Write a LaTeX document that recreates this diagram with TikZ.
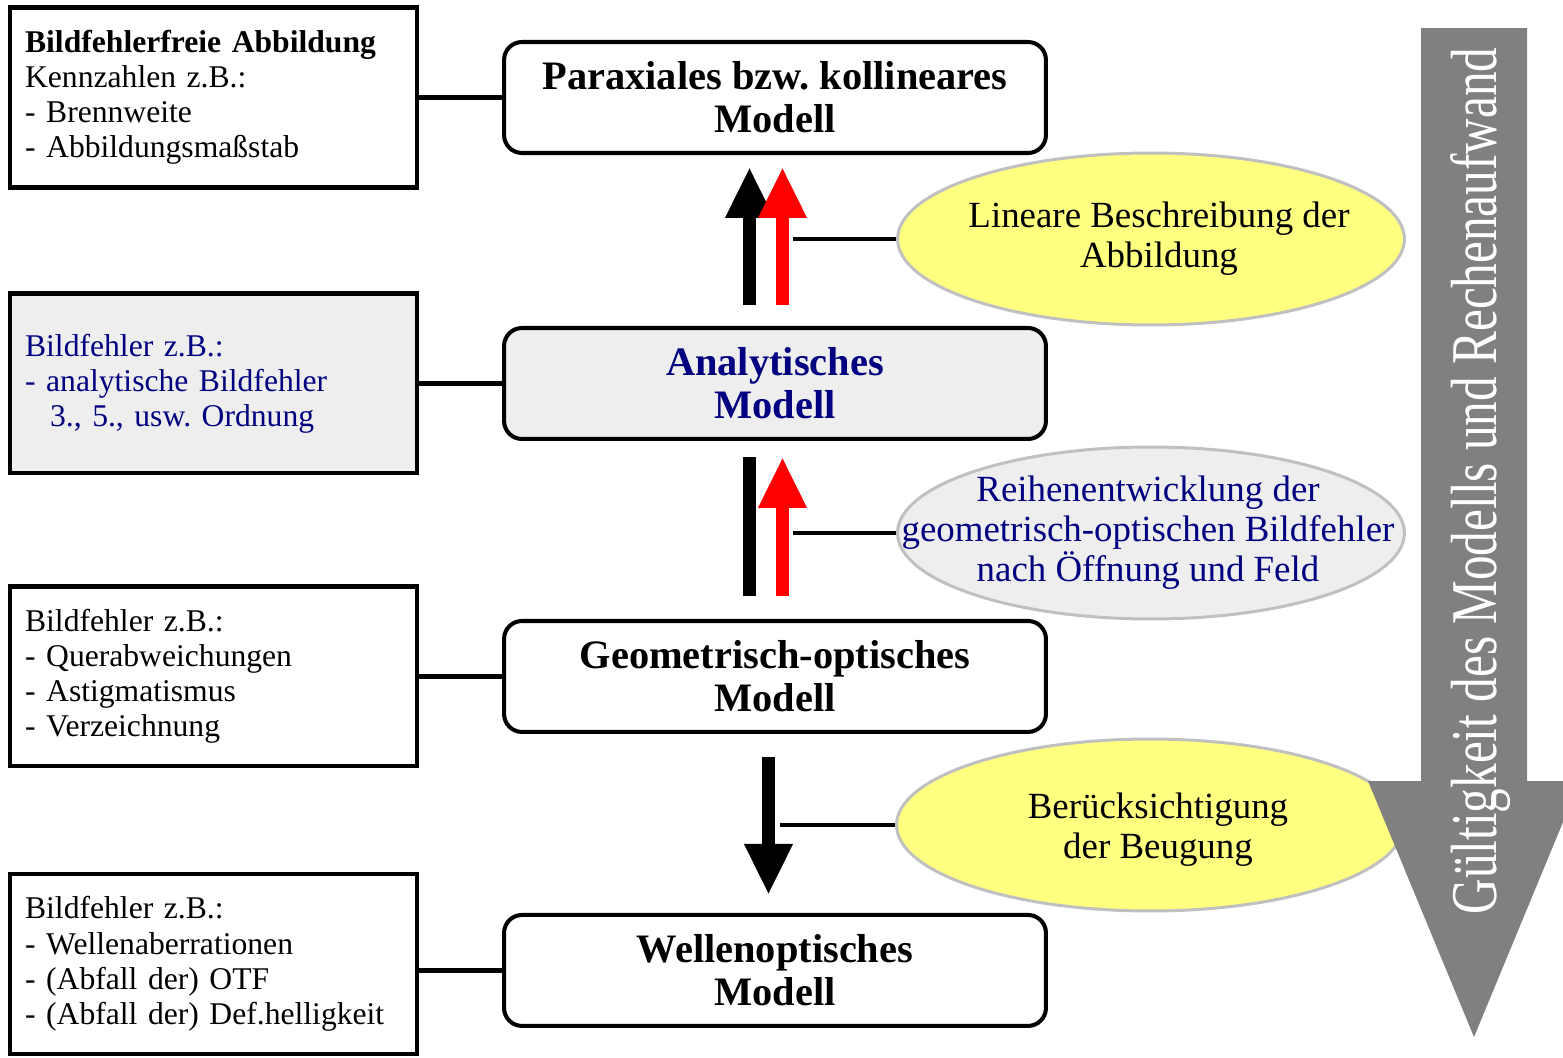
\documentclass[tikz,border=0pt]{standalone}
\usepackage{graphicx}
\usepackage{fontspec}
\setmainfont{Liberation Serif}
\usepackage{tikz}
\usetikzlibrary{arrows.meta,positioning,shapes.geometric}
\definecolor{navy}{HTML}{000080}
\definecolor{boxgray}{HTML}{EEEEEE}
\definecolor{ovalyellow}{HTML}{FFFF80}
\definecolor{ovalrim}{HTML}{C0C0C0}
\definecolor{bandgray}{HTML}{808080}
\frenchspacing

\begin{document}
\begin{tikzpicture}[
    x=0.02cm, y=-0.02cm,
    node distance=3.56cm and 1.66cm,
    model/.style={draw, line width=2.3pt, rounded corners=0.36cm, minimum width=10.84cm, minimum height=2.22cm, align=center, font=\fontsize{23pt}{24.5pt}\selectfont\bfseries},
    info/.style={draw, line width=2.3pt, minimum width=8.14cm, minimum height=3.6cm, inner xsep=0.3cm, text width=7.54cm, align=left, font=\fontsize{18pt}{20pt}\selectfont},
    oval/.style={ellipse, draw=ovalrim, line width=1.7pt, fill=ovalyellow, minimum width=10.14cm, minimum height=3.44cm, inner sep=0pt},
    ovaltext/.style={align=center, font=\fontsize{21pt}{22.8pt}\selectfont},
    fat/.style={line width=7.4pt, -{Triangle[length=1.02cm, width=0.9cm]}},
    leader/.style={line width=2.8pt}
]
\useasboundingbox (0,0) rectangle (1563,1058);
\clip (0,0) rectangle (1563,1058);

\node[model] (parax) at (775,97.5) {Paraxiales bzw. kollineares\\Modell};
\node[model, fill=boxgray, text=navy, below=3.42cm of parax] (analyt) {Analytisches\\Modell};
\node[model, below=of analyt] (geom) {Geometrisch-optisches\\Modell};
\node[model, below=3.58cm of geom] (welle) {Wellenoptisches\\Modell};

\node[info, left=of parax] (fehlerfrei) {\textbf{Bildfehlerfreie Abbildung}\\Kennzahlen z.B.:\\- Brennweite\\- Abbildungsmaßstab};
\node[info, fill=boxgray, text=navy, left=of analyt] (analytfehler) {Bildfehler z.B.:\\- analytische Bildfehler\\\hspace*{0.5cm}3., 5., usw. Ordnung};
\node[info, left=of geom] (geomfehler) {Bildfehler z.B.:\\- Querabweichungen\\- Astigmatismus\\- Verzeichnung};
\node[info, left=of welle, yshift=0.13cm] (wellefehler) {Bildfehler z.B.:\\- Wellenaberrationen\\- (Abfall der) OTF\\- (Abfall der) Def.helligkeit};

\draw[leader] (fehlerfrei) -- (parax);
\draw[leader] (analytfehler) -- (analyt);
\draw[leader] (geomfehler) -- (geom);
\draw[leader] (welle.west -| wellefehler.east) -- (welle.west);

\node[oval] (linear) at (1151,239) {};
\node[ovaltext] (lineartext) at ([xshift=0.16cm]linear.center) {Lineare Beschreibung der\\Abbildung};
\node[oval, fill=boxgray] (reihe) at (1151,533) {};
\node[ovaltext, text=navy] (reihetext) at ([xshift=-0.06cm]reihe.center) {Reihenentwicklung der\\geometrisch-optischen Bildfehler\\nach Öffnung und Feld};
\node[oval] (beugung) at (1150,825) {};
\node[ovaltext] (beugungtext) at ([xshift=0.16cm,yshift=-0.1cm]beugung.center) {Berücksichtigung\\der Beugung};

\draw[leader] (linear.west) -- ++(-103,0);
\draw[leader] (reihe.west) -- ++(-103,0);
\draw[leader] (beugung.west) -- ++(-115,0);

\draw[fat] ([xshift=-0.51cm,yshift=0.42cm]analyt.north) -- ([xshift=-0.51cm,yshift=-0.24cm]parax.south);
\draw[fat, red] ([xshift=0.15cm,yshift=0.42cm]analyt.north) -- ([xshift=0.15cm,yshift=-0.24cm]parax.south);
\draw[line width=7.4pt] ([xshift=-0.51cm,yshift=0.46cm]geom.north) -- ([xshift=-0.51cm,yshift=-0.32cm]analyt.south);
\draw[fat, red] ([xshift=0.15cm,yshift=0.46cm]geom.north) -- ([xshift=0.15cm,yshift=-0.32cm]analyt.south);
\draw[fat] ([xshift=-0.13cm,yshift=-0.46cm]geom.south) -- ([xshift=-0.13cm,yshift=0.36cm]welle.north);

\fill[bandgray] (1421,28) -- (1527,28) -- (1527,781) -- (1580,781) -- (1474,1037) -- (1368,781) -- (1421,781) -- cycle;
\node[rotate=90, anchor=base, text=white, inner sep=0pt] (gueltig) at (1496,481) {\resizebox{17.34cm}{0.92cm}{Gültigkeit des Modells und Rechenaufwand}};
\end{tikzpicture}
\end{document}
